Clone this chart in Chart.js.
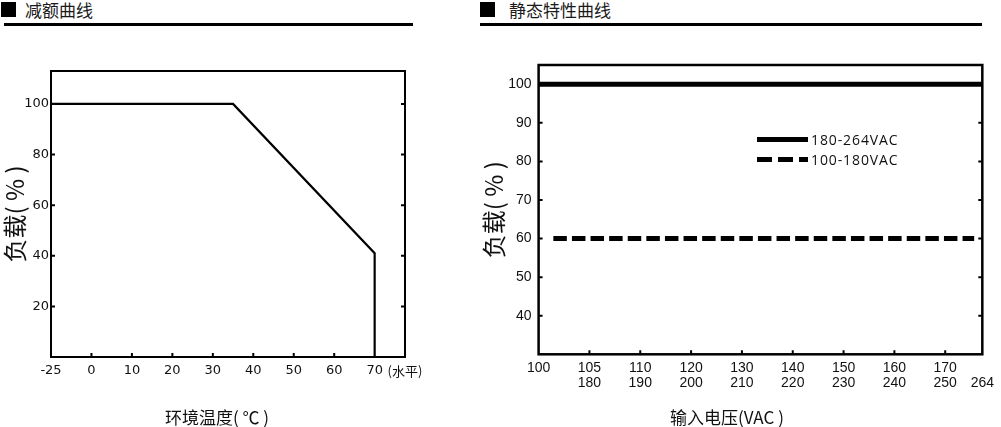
<!DOCTYPE html>
<html>
<head>
<meta charset="utf-8">
<script src="https://cdn.jsdelivr.net/npm/chart.js@4/dist/chart.umd.min.js"></script>
<style>
  html, body { margin:0; padding:0; background:#fff; }
  body { width:1001px; height:427px; position:relative; overflow:hidden; font-family:"Noto Sans CJK SC", sans-serif; color:#111; }
  .sq { position:absolute; top:2px; width:15px; height:15px; background:#000; }
  .hd { position:absolute; top:-1px; font-size:17px; line-height:22px; color:#1a1a1a; white-space:nowrap; }
  .rule { position:absolute; top:23px; height:3px; background:#000; }
  .xt { position:absolute; top:405px; font-size:17px; line-height:24px; white-space:nowrap; transform:translateX(-50%); color:#111; }
  .lg { position:absolute; font-family:"Open Sans", sans-serif; font-size:14px; letter-spacing:0.9px; line-height:20px; color:#111; white-space:nowrap; }
  .ls { position:absolute; height:4.5px; width:51px; }
  canvas { position:absolute; top:0; }
</style>
</head>
<body>
<div class="sq" style="left:1px"></div>
<div class="hd" style="left:25px">减额曲线</div>
<div class="rule" style="left:4px; width:409px"></div>
<div class="sq" style="left:480px"></div>
<div class="hd" style="left:509px">静态特性曲线</div>
<div class="rule" style="left:480px; width:502px"></div>

<canvas id="c1" width="440" height="427" style="left:0; width:440px; height:427px"></canvas>
<canvas id="c2" width="531" height="427" style="left:470px; width:531px; height:427px"></canvas>

<div class="xt" style="left:217px">环境温度( ℃ )</div>
<div class="xt" style="left:727px">输入电压(VAC )</div>

<div class="ls" style="left:757px; top:137.3px; background:#000"></div>
<div class="lg" id="lg1" style="left:811px; top:129.5px"></div>
<div class="ls" style="left:757px; top:157.3px; background:repeating-linear-gradient(to right,#000 0 15px,transparent 15px 21px)"></div>
<div class="lg" id="lg2" style="left:811px; top:149.5px"></div>

<script>
// ---------- Derating curve (left) ----------
const deratingTemp = [-10, 35, 70, 70];
const deratingLoad = [100, 100, 41, 0];
const leftXTickValues = [-10, 0, 10, 20, 30, 40, 50, 60, 70, 77.5];
const leftXTickLabels = ['-25', '0', '10', '20', '30', '40', '50', '60', '70', '(水平)'];
const leftYTickValues = [20, 40, 60, 80, 100];
const leftXMin = -10, leftXMax = 77.5, leftYMin = 0, leftYMax = 113;

// ---------- Static characteristic (right) ----------
const seriesNames = ['180-264VAC', '100-180VAC'];
const highRangeX = [0, 8.73];
const highRangeLoad = [100, 100];
const lowRangeX = [0.29, 8.57];
const lowRangeLoad = [60, 60];
const rightXTickValues = [0, 1, 2, 3, 4, 5, 6, 7, 8, 8.73];
const rightXTickRow1 = ['100', '105', '110', '120', '130', '140', '150', '160', '170', ''];
const rightXTickRow2 = ['', '180', '190', '200', '210', '220', '230', '240', '250', '264'];
const rightYTickValues = [40, 50, 60, 70, 80, 90, 100];
const rightXMin = 0, rightXMax = 8.73, rightYMin = 30, rightYMax = 105;

const yTitle = '负载( % )';
const CJK = '"Noto Sans CJK SC", sans-serif';

document.getElementById('lg1').textContent = seriesNames[0];
document.getElementById('lg2').textContent = seriesNames[1];

function toPts(xs, ys) { return xs.map((x, i) => ({ x: x, y: ys[i] })); }

function boxPlugin(borderW, tickCfg) {
  return {
    id: 'box',
    afterDatasetsDraw(chart) {
      const a = chart.chartArea, ctx = chart.ctx;
      const sx = chart.scales.x, sy = chart.scales.y;
      ctx.save();
      ctx.strokeStyle = '#000';
      ctx.lineWidth = borderW;
      ctx.strokeRect(a.left, a.top, a.right - a.left, a.bottom - a.top);
      ctx.lineWidth = 2;
      ctx.beginPath();
      tickCfg.bottom.forEach(v => {
        const px = sx.getPixelForValue(v);
        ctx.moveTo(px, a.bottom); ctx.lineTo(px, a.bottom - tickCfg.len);
      });
      tickCfg.left.forEach(v => {
        const py = sy.getPixelForValue(v);
        ctx.moveTo(a.left, py); ctx.lineTo(a.left + tickCfg.len, py);
      });
      tickCfg.right.forEach(v => {
        const py = sy.getPixelForValue(v);
        ctx.moveTo(a.right, py); ctx.lineTo(a.right - tickCfg.len, py);
      });
      ctx.stroke();
      ctx.restore();
    }
  };
}

const common = {
  responsive: false,
  animation: false,
  plugins: { legend: { display: false }, tooltip: { enabled: false } }
};
const noGrid = { display: false, drawTicks: false };

new Chart(document.getElementById('c1'), {
  type: 'scatter',
  data: {
    datasets: [{
      data: toPts(deratingTemp, deratingLoad),
      showLine: true, borderColor: '#000', borderWidth: 2.2, pointRadius: 0,
      tension: 0, borderJoinStyle: 'miter'
    }]
  },
  options: Object.assign({}, common, {
    layout: { padding: { top: 71, right: 35, left: 0, bottom: 0 } },
    scales: {
      x: {
        type: 'linear', min: leftXMin, max: leftXMax,
        grid: noGrid, border: { display: false },
        afterBuildTicks: s => { s.ticks = leftXTickValues.map(v => ({ value: v })); },
        afterFit: s => { s.height = 70; },
        ticks: {
          autoSkip: false, maxRotation: 0, padding: 6, color: '#111',
          font: c => (c.tick && c.tick.value === 77.5) ? { family: CJK, size: 13 } : { family: 'DejaVu Sans', size: 13 },
          callback: (v, i) => leftXTickLabels[i]
        }
      },
      y: {
        type: 'linear', min: leftYMin, max: leftYMax,
        grid: noGrid, border: { display: false },
        afterBuildTicks: s => { s.ticks = leftYTickValues.map(v => ({ value: v })); },
        afterFit: s => { s.width = 51; },
        ticks: { padding: 2, color: '#111', font: { family: 'DejaVu Sans', size: 13 } },
        title: { display: true, text: yTitle, color: '#111', font: { family: CJK, size: 24 }, padding: { top: 0, bottom: 0 } }
      }
    }
  }),
  plugins: [boxPlugin(2, { len: 4, bottom: [0, 10, 20, 30, 40, 50, 60], left: leftYTickValues, right: leftYTickValues })]
});

new Chart(document.getElementById('c2'), {
  type: 'scatter',
  data: {
    datasets: [
      { data: toPts(highRangeX, highRangeLoad), showLine: true, borderColor: '#000', borderWidth: 5, pointRadius: 0 },
      { data: toPts(lowRangeX, lowRangeLoad), showLine: true, borderColor: '#000', borderWidth: 5, pointRadius: 0, borderDash: [13.5, 5.1] }
    ]
  },
  options: Object.assign({}, common, {
    layout: { padding: { top: 65, right: 15.8, left: 0, bottom: 0 } },
    scales: {
      x: {
        type: 'linear', min: rightXMin, max: rightXMax,
        grid: noGrid, border: { display: false },
        afterBuildTicks: s => { s.ticks = rightXTickValues.map(v => ({ value: v })); },
        afterFit: s => { s.height = 72.7; },
        ticks: {
          autoSkip: false, maxRotation: 0, padding: 7, color: '#111',
          font: { family: '"Liberation Sans", Arial, sans-serif', size: 14, lineHeight: 1.03 },
          callback: (v, i) => rightXTickRow1[i] === '' ? ['', rightXTickRow2[i]] : (rightXTickRow2[i] === '' ? rightXTickRow1[i] : [rightXTickRow1[i], rightXTickRow2[i]])
        }
      },
      y: {
        type: 'linear', min: rightYMin, max: rightYMax,
        grid: noGrid, border: { display: false },
        afterBuildTicks: s => { s.ticks = rightYTickValues.map(v => ({ value: v })); },
        afterFit: s => { s.width = 68.6; },
        ticks: { padding: 7, color: '#111', font: { family: '"Liberation Sans", Arial, sans-serif', size: 14 } },
        title: { display: true, text: yTitle, color: '#111', font: { family: CJK, size: 24 }, padding: { top: 9, bottom: 0 } }
      }
    }
  }),
  plugins: [boxPlugin(2.5, { len: 4, bottom: [1, 2, 3, 4, 5, 6, 7, 8], left: [40, 50, 60, 70, 80, 90], right: [40, 50, 60, 70, 80, 90] })]
});
</script>
</body>
</html>
